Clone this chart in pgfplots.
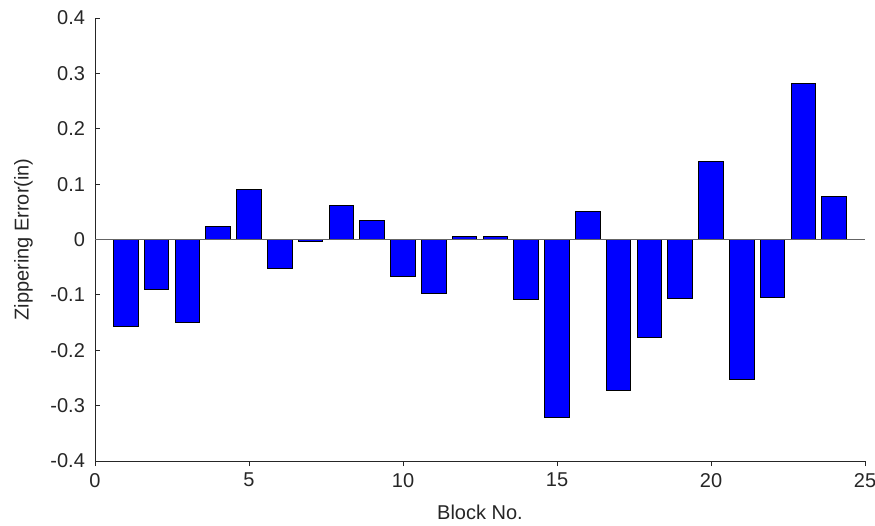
\documentclass[border=0pt]{standalone}
\usepackage{fontspec}
\setmainfont{Liberation Sans}
\usepackage{pgfplots}
\pgfplotsset{compat=1.18}
\usetikzlibrary{calc}
\definecolor{axgray}{RGB}{38,38,38}
\definecolor{basegray}{RGB}{100,100,100}
\begin{document}
\fontsize{10}{12}\selectfont
\begin{tikzpicture}
\begin{axis}[
  scale only axis,
  width=385pt, height=221.5pt,
  xmin=0, xmax=25, ymin=-0.4, ymax=0.4,
  axis x line*=bottom, axis y line*=left,
  axis line style={axgray, line width=0.5pt},
  xtick={0,5,...,25},
  ytick={-0.4,-0.3,...,0.4},
  tick align=inside,
  major tick length=2.5pt,
  tick style={axgray, line width=0.5pt},
  /pgf/number format/assume math mode=true,
  yticklabel style={/pgf/number format/fixed, /pgf/number format/precision=1, text=axgray, font=\fontsize{10}{12}\selectfont, xshift=-1.5pt},
  xticklabel style={text=axgray, font=\fontsize{10}{12}\selectfont},
  xlabel={Block No.},
  ylabel={Zippering Error(in)},
  xlabel style={at={(axis description cs:0.5,-0.115)}, anchor=center, text=axgray, font=\fontsize{10}{12}\selectfont},
  ylabel style={at={(axis description cs:-0.093,0.5)}, anchor=center, rotate=0, text=axgray, font=\fontsize{10}{12}\selectfont},
  ybar, bar width=0.8, bar shift=0pt,
]
\addplot[fill=blue, draw=black, line width=0.5pt] coordinates {
(1,-0.158) (2,-0.090) (3,-0.149) (4,0.023) (5,0.091) (6,-0.053)
(7,-0.003) (8,0.062) (9,0.034) (10,-0.067) (11,-0.098) (12,0.005)
(13,0.006) (14,-0.109) (15,-0.321) (16,0.051) (17,-0.273) (18,-0.177)
(19,-0.107) (20,0.141) (21,-0.253) (22,-0.104) (23,0.2815) (24,0.077)
};
\addplot[sharp plot, basegray, line width=0.5pt, forget plot] coordinates {(0,0) (25,0)};
\coordinate (sw) at (rel axis cs:0,0);
\coordinate (ne) at (rel axis cs:1,1);
\end{axis}
\pgfresetboundingbox
\path[use as bounding box] ($(sw)+(-47.5pt,-32pt)$) rectangle ($(ne)+(5pt,9pt)$);
\end{tikzpicture}
\end{document}
